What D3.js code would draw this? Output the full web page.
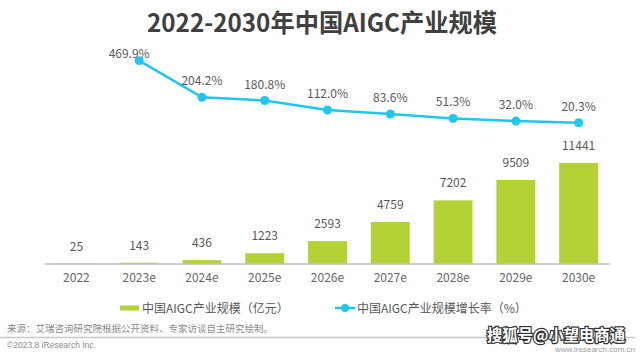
<!DOCTYPE html>
<html>
<head>
<meta charset="utf-8">
<script src="https://cdn.jsdelivr.net/npm/d3@7"></script>
<style>
  body { margin: 0; background: #fff; }
  svg { display: block; font-family: "Microsoft YaHei", "Noto Sans CJK SC", "Noto Sans", sans-serif; }
</style>
</head>
<body>
<div id="chart"></div>
<script>
// chart data
var years = ["2022", "2023e", "2024e", "2025e", "2026e", "2027e", "2028e", "2029e", "2030e"]
var market_size = [25, 143, 436, 1223, 2593, 4759, 7202, 9509, 11441]
var growth_rate = [null, 469.9, 204.2, 180.8, 112.0, 83.6, 51.3, 32.0, 20.3]

var title_text = "2022-2030年中国AIGC产业规模"
var bar_legend = "中国AIGC产业规模（亿元）"
var line_legend = "中国AIGC产业规模增长率（%）"
var source_text = "来源：艾瑞咨询研究院根据公开资料、专家访谈自主研究绘制。"
var copyright_text = "©2023.8 iResearch Inc."
var site_text = "www.iresearch.com.cn"
var watermark_text = "搜狐号@小望电商通"

var width = 640, height = 354
var bar_colour = "#b2d235"
var line_colour = "#1ec6f0"
var text_colour = "#595959"

var svg = d3.select("#chart").append("svg")
	.attr("width", width)
	.attr("height", height)

// title
svg.append("text")
	.attr("x", 322)
	.attr("y", 32)
	.attr("text-anchor", "middle")
	.attr("font-size", 25)
	.attr("font-weight", "bold")
	.attr("fill", "#404040")
	.attr("textLength", 350)
	.attr("lengthAdjust", "spacingAndGlyphs")
	.text(title_text)

// scales
var x = d3.scaleBand().domain(years).range([45, 610]).paddingInner(0.38).paddingOuter(0.19)
var y_bar = d3.scaleLinear().domain([0, 12000]).range([264, 158])
var y_line = d3.scaleLinear().domain([0, 500]).range([125.5, 56.5])

// bars
svg.selectAll(".bar")
	.data(market_size)
	.enter()
	.append("rect")
	.attr("class", "bar")
	.attr("x", function(d, i) {return x(years[i])})
	.attr("y", function(d) {return y_bar(d)})
	.attr("width", x.bandwidth())
	.attr("height", function(d) {return y_bar(0) - y_bar(d)})
	.attr("fill", bar_colour)

svg.selectAll(".bar_label")
	.data(market_size)
	.enter()
	.append("text")
	.attr("class", "bar_label")
	.attr("x", function(d, i) {return x(years[i]) + x.bandwidth() / 2})
	.attr("y", function(d) {return y_bar(d) - 13})
	.attr("text-anchor", "middle")
	.attr("font-size", 12)
	.attr("fill", text_colour)
	.text(function(d) {return d})

// x axis
var x_axis = svg.append("g")
	.attr("transform", "translate(0," + y_bar(0) + ")")
	.call(d3.axisBottom(x).tickSize(0).tickPadding(9))
x_axis.select(".domain").attr("stroke", "#bfbfbf").attr("stroke-width", 1.5)
	.attr("d", "M45,0H610")
x_axis.selectAll("text")
	.attr("font-size", 12)
	.attr("fill", "#666")
	.attr("font-family", "\"Microsoft YaHei\", \"Noto Sans CJK SC\", sans-serif")

// growth line
var line_data = growth_rate.map(function(d, i) {return [years[i], d]}).filter(function(d) {return d[1] !== null})

var line = d3.line()
	.x(function(d) {return x(d[0]) + x.bandwidth() / 2})
	.y(function(d) {return y_line(d[1])})

svg.append("path")
	.datum(line_data)
	.attr("d", line)
	.attr("fill", "none")
	.attr("stroke", line_colour)
	.attr("stroke-width", 2.5)

svg.selectAll(".line_point")
	.data(line_data)
	.enter()
	.append("circle")
	.attr("class", "line_point")
	.attr("cx", function(d) {return x(d[0]) + x.bandwidth() / 2})
	.attr("cy", function(d) {return y_line(d[1])})
	.attr("r", 4.5)
	.attr("fill", line_colour)

svg.selectAll(".line_label")
	.data(line_data)
	.enter()
	.append("text")
	.attr("class", "line_label")
	.attr("x", function(d, i) {return x(d[0]) + x.bandwidth() / 2 + (i == 0 ? -10 : 0)})
	.attr("y", function(d, i) {return y_line(d[1]) - (i == 0 ? 3 : 12)})
	.attr("text-anchor", "middle")
	.attr("font-size", 12)
	.attr("fill", text_colour)
	.text(function(d) {return d3.format(".1f")(d[1]) + "%"})

// legend
var legend = svg.append("g").attr("transform", "translate(0,308)")
legend.append("rect")
	.attr("x", 120).attr("y", -2.5)
	.attr("width", 19).attr("height", 5)
	.attr("fill", bar_colour)
legend.append("text")
	.attr("x", 142).attr("y", 4.5)
	.attr("font-size", 12)
	.attr("fill", text_colour)
	.text(bar_legend)

legend.append("line")
	.attr("x1", 335).attr("x2", 355)
	.attr("y1", 0).attr("y2", 0)
	.attr("stroke", line_colour)
	.attr("stroke-width", 2.5)
legend.append("circle")
	.attr("cx", 345).attr("cy", 0).attr("r", 4)
	.attr("fill", line_colour)
legend.append("text")
	.attr("x", 357).attr("y", 4.5)
	.attr("font-size", 12)
	.attr("fill", text_colour)
	.text(line_legend)

// footer
svg.append("text")
	.attr("x", 7).attr("y", 332)
	.attr("font-size", 9.5)
	.attr("fill", "#8c8c8c")
	.text(source_text)

svg.append("line")
	.attr("x1", 0).attr("x2", 635)
	.attr("y1", 337.5).attr("y2", 337.5)
	.attr("stroke", "#c8c8c8")
	.attr("stroke-width", 1.5)

svg.append("text")
	.attr("x", 7).attr("y", 348)
	.attr("font-size", 8.5)
	.attr("fill", "#8c8c8c")
	.attr("font-family", "\"Liberation Sans\", Arial, sans-serif")
	.text(copyright_text)

svg.append("text")
	.attr("x", 635).attr("y", 352)
	.attr("text-anchor", "end")
	.attr("font-size", 8)
	.attr("fill", "#a0a0a0")
	.attr("font-family", "\"Liberation Sans\", Arial, sans-serif")
	.text(site_text)

svg.append("text")
	.attr("x", 625).attr("y", 341)
	.attr("text-anchor", "end")
	.attr("font-size", 16)
	.attr("font-weight", "bold")
	.attr("fill", "#fff")
	.attr("stroke", "#333")
	.attr("stroke-width", 2.5)
	.attr("paint-order", "stroke")
	.attr("textLength", 138)
	.attr("lengthAdjust", "spacingAndGlyphs")
	.text(watermark_text)
</script>
</body>
</html>
